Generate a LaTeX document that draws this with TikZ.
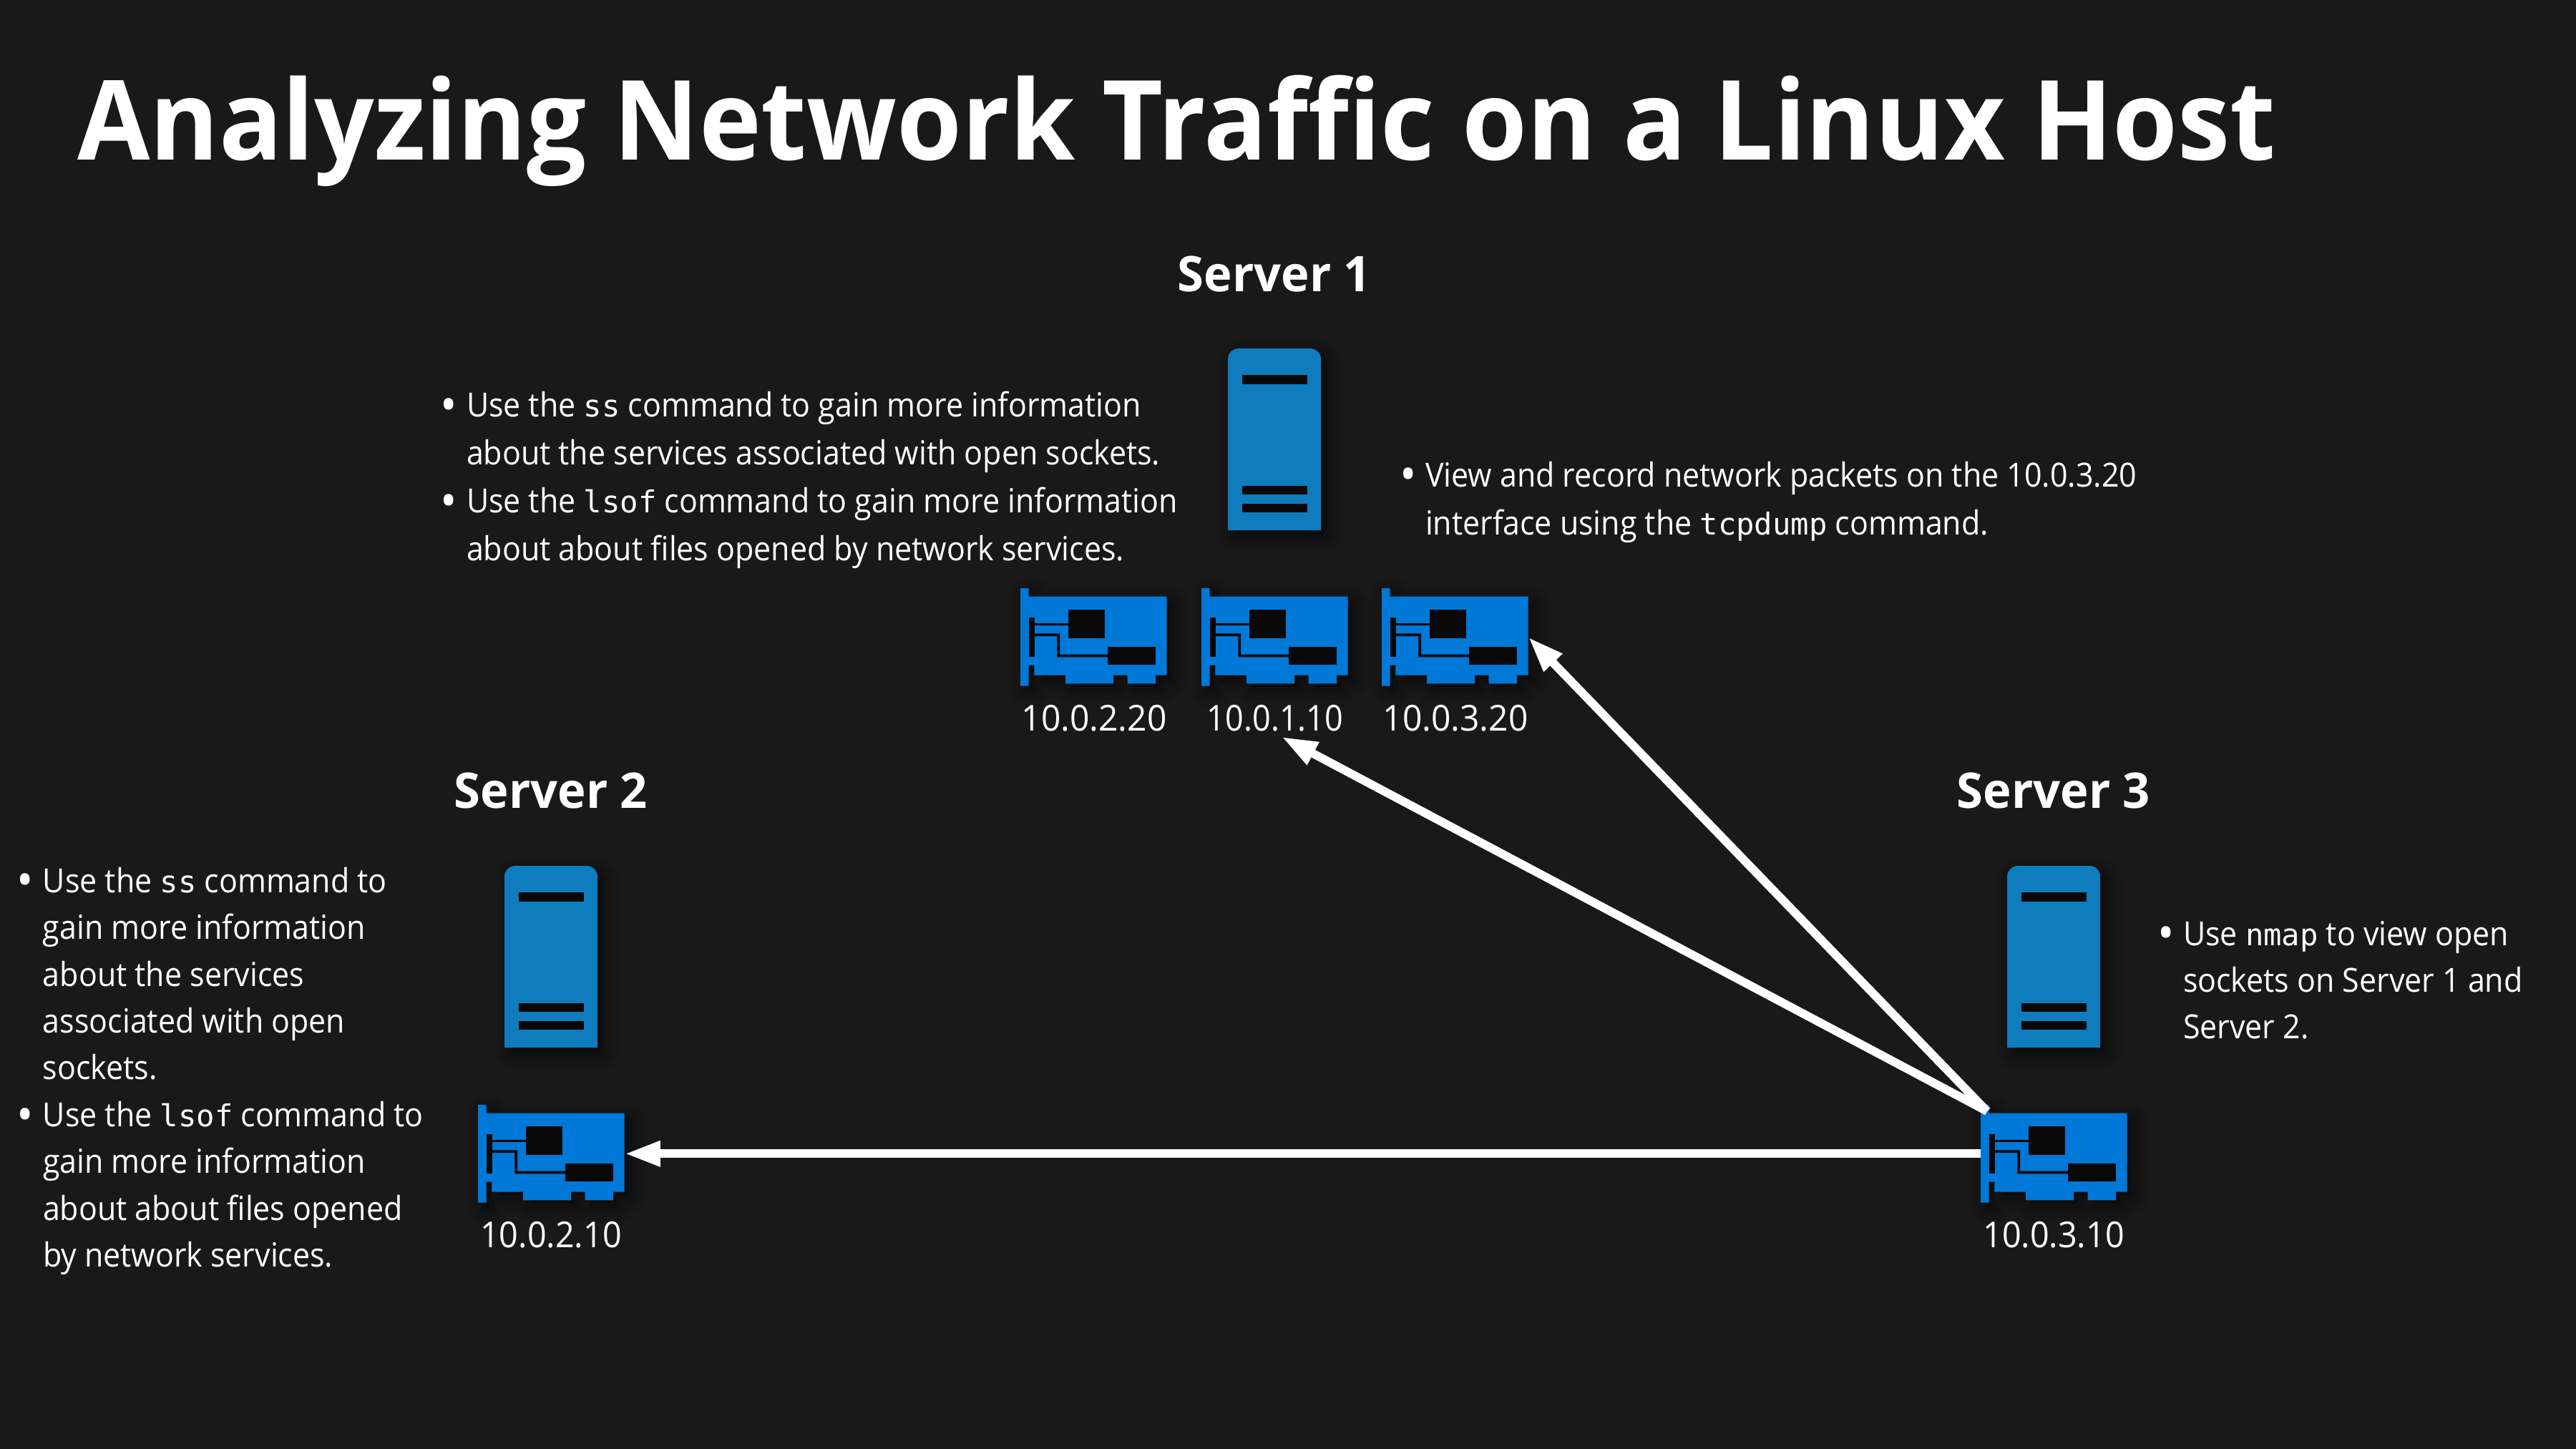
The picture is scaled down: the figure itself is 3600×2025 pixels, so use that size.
\documentclass[tikz,border=0pt]{standalone}
\usepackage{fontspec}
\usepackage{graphicx}
\setmainfont{Open Sans}[FakeStretch=0.925]
\newfontfamily\titlefont{Open Sans}[FakeStretch=0.95]
\newfontfamily\headfont{Open Sans}[FakeStretch=0.975]
\newfontfamily\ipfont{Open Sans}[FakeStretch=0.96]
\newfontfamily\ipfontb{Open Sans}[FakeStretch=0.90]
\newfontfamily\ipfontc{Open Sans}[FakeStretch=0.935]
\setmonofont{DejaVu Sans Mono}[Scale=0.91]
\usetikzlibrary{arrows.meta,shadows.blur}
\definecolor{bgc}{HTML}{191919}
\definecolor{srvc}{HTML}{0F7CBD}
\definecolor{nicc}{HTML}{0078D7}
\definecolor{slotc}{HTML}{080808}
\newcommand{\blt}{\makebox[0pt][r]{\makebox[0.36cm][l]{\raisebox{-1.9pt}{\scalebox{1.45}{\textbullet}}}}}
\tikzset{
  x=0.01cm,y=-0.01cm,
  anchorbox/.style={inner sep=0,outer sep=0,draw=none},
  softshadow/.style={blur shadow={shadow xshift=0.08cm,shadow yshift=-0.08cm,shadow blur radius=0.22cm,shadow opacity=70}},
  bodytext/.style={text=white,inner sep=0,outer sep=0,align=left,anchor=north west,font=\fontsize{13.2pt}{19.06pt}\selectfont},
  bodytight/.style={bodytext,font=\fontsize{13.2pt}{18.6pt}\selectfont},
  iplabel/.style={text=white,inner sep=0,outer sep=0,anchor=base,font=\ipfont\fontsize{14.2pt}{17pt}\selectfont},
  iplabelb/.style={iplabel,font=\ipfontb\fontsize{14.2pt}{17pt}\selectfont},
  iplabelc/.style={iplabel,font=\ipfontc\fontsize{14.2pt}{17pt}\selectfont},
  srvtitle/.style={text=white,inner sep=0,outer sep=0,anchor=base,font=\headfont\fontsize{19.5pt}{23pt}\selectfont\bfseries},
  maintitle/.style={text=white,inner sep=0,outer sep=0,anchor=base west,font=\titlefont\fontsize{44pt}{50pt}\selectfont\bfseries},
  linkarrow/.style={draw=white,line width=0.118cm,-{Triangle[length=0.5cm,width=0.33cm]}},
}
\newcommand{\nicard}[3]{%
  \node[anchorbox,minimum width=2.047cm,minimum height=1.367cm] (#1) at (#2+102.35,#3+68.35) {};
  \begin{scope}[shift={(#2,#3)}]
    \fill[nicc,softshadow] (0,0) -- (11.7,0) -- (11.7,11.7) -- (204.7,11.7) -- (204.7,121.7) -- (189,121.7) -- (189,133.3) -- (149.7,133.3) -- (149.7,121.7) -- (130,121.7) -- (130,133.3) -- (63,133.3) -- (63,121.7) -- (19.3,121.7) -- (19.3,107.7) -- (11.7,107.7) -- (11.7,136.7) -- (0,136.7) -- cycle;
    \fill[slotc] (11.7,41) rectangle (19.7,96.3);
    \fill[slotc] (66.7,30.3) rectangle (118,70.3);
    \fill[slotc] (122,81.7) rectangle (189,107.3);
    \fill[slotc] (19.7,49) rectangle (66.7,52.3);
    \fill[slotc] (19.7,63.3) -- (55,63.3) -- (55,92.7) -- (122,92.7) -- (122,96.3) -- (51.3,96.3) -- (51.3,67) -- (19.7,67) -- cycle;
  \end{scope}}
\newcommand{\srvbox}[3]{%
  \node[anchorbox,minimum width=1.3cm,minimum height=2.54cm] (#1) at (#2,#3+127) {};
  \begin{scope}[shift={(#2-65,#3)}]
    \fill[srvc,softshadow] (0,254) {[rounded corners=0.15cm] -- (0,0) -- (130,0)} -- (130,254) -- cycle;
    \fill[slotc] (20,37) rectangle (110.5,50);
    \fill[slotc] (20,192) rectangle (110.5,204);
    \fill[slotc] (20,217) rectangle (110.5,229);
  \end{scope}}
\begin{document}
\begin{tikzpicture}
\useasboundingbox (0,0) rectangle (3600,2025);
\fill[bgc] (0,0) rectangle (3600,2025);

\node[maintitle] (title) at (108,224) {Analyzing Network Traffic on a Linux Host};

\node[srvtitle] (s1t) at (1781,408) {Server 1};
\node[srvtitle] (s2t) at (770,1129) {Server 2};
\node[srvtitle] (s3t) at (2870,1129) {Server 3};

\srvbox{srv1}{1781}{487}
\srvbox{srv2}{770}{1210}
\srvbox{srv3}{2870}{1210}

\nicard{nicA}{1426}{822}
\nicard{nicB}{1679}{822}
\nicard{nicC}{1931}{822}
\nicard{nicD}{668}{1544}
\nicard{nicE}{2768}{1544}

\node[iplabel] (ipA) at (1529,1021) {10.0.2.20};
\node[iplabelb] (ipB) at (1782,1021) {10.0.1.10};
\node[iplabel] (ipC) at (2034,1021) {10.0.3.20};
\node[iplabelc] (ipD) at (770,1743) {10.0.2.10};
\node[iplabelc] (ipE) at (2870,1743) {10.0.3.10};

\node[bodytext] (note1) at (652,547) {\blt Use the {\ttfamily ss} command to gain more information\\
about the services associated with open sockets.\\
\blt Use the {\ttfamily lsof} command to gain more information\\
about about files opened by network services.};

\node[bodytext] (note2) at (1992,645) {\blt View and record network packets on the 10.0.3.20\\
interface using the {\ttfamily tcpdump} command.};

\node[bodytight] (note3) at (60,1212) {\blt Use the {\ttfamily ss} command to\\
gain more information\\
about the services\\
associated with open\\
sockets.\\
\blt Use the {\ttfamily lsof} command to\\
gain more information\\
about about files opened\\
by network services.};

\node[bodytight] (note4) at (3051,1287) {\blt Use {\ttfamily nmap} to view open\\
sockets on Server 1 and\\
Server 2.};

\draw[linkarrow] (nicE.west) -- (nicD.east);
\draw[linkarrow] ([shift={(9,9)}]nicE.north west) -- (nicC.east);
\draw[linkarrow] ([shift={(9,9)}]nicE.north west) -- ([shift={(9,8)}]ipB.south);
\end{tikzpicture}
\end{document}
